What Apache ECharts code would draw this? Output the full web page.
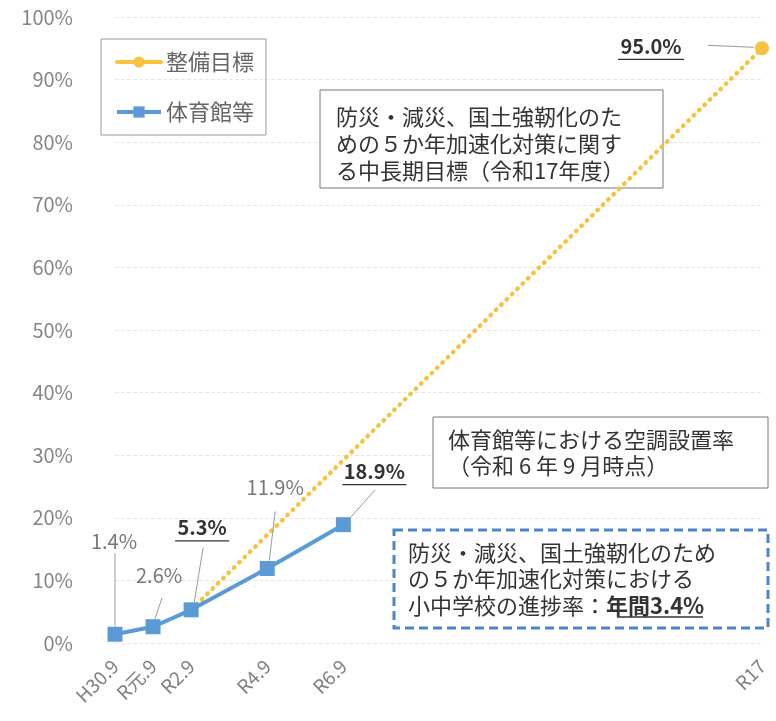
<!DOCTYPE html>
<html>
<head>
<meta charset="utf-8">
<script src="https://cdn.jsdelivr.net/npm/echarts@6/dist/echarts.min.js"></script>
<style>
html, body { margin: 0; padding: 0; background: #fff; }
#chart { width: 776px; height: 721px; }
</style>
</head>
<body>
<div id="chart"></div>
<script>
// 年度ラベルと横位置（H30.9 を 0 とした年数）
var xLabels = ['H30.9', 'R元.9', 'R2.9', 'R4.9', 'R6.9', 'R17'];
var xYears = [0, 1, 2, 4, 6, 17];
// 体育館等の空調設置率（%）
var gymYears = [0, 1, 2, 4, 6];
var gymRate = [1.4, 2.6, 5.3, 11.9, 18.9];
// 整備目標（R2.9 から R17 まで）
var targetYears = [2, 17];
var targetRate = [5.3, 95.0];

var FONT = '"Noto Sans CJK JP", "Noto Sans", sans-serif';

var chart = echarts.init(document.getElementById('chart'));

// ラベル位置：[文字中心dx, dy, 引出線始点dx, dy, 終点dx, dy, 強調, 下線幅]
var gymLabelPos = [
  [-1, -93, 0, -81, 0, -8, false, 0],
  [6, -51, 9, -29, 2, -8, false, 0],
  [11, -82, 12, -62, 3, -7, true, 54],
  [8, -81, 8, -57, 2, -8, false, 0],
  [31, -53, 32, -35, 7, -7, true, 64]
];
var targetLabelPos = [-111, -2, -54, -3, -8, -1, true, 66];

var option = {
  backgroundColor: '#fff',
  textStyle: { fontFamily: FONT },
  animation: false,
  grid: { left: 115, right: 14, top: 17, bottom: 78, containLabel: false },
  legend: {
    orient: 'vertical',
    left: 101,
    top: 39,
    data: ['整備目標', '体育館等'],
    itemWidth: 44,
    itemHeight: 14,
    itemGap: 28,
    padding: [12, 12, 12, 14],
    borderColor: '#999',
    borderWidth: 1,
    lineStyle: { type: 'solid', width: 4 },
    textStyle: { fontSize: 22, color: '#666', fontFamily: FONT }
  },
  xAxis: {
    type: 'value',
    min: 0,
    max: 17,
    interval: 1,
    axisLine: { show: false },
    axisTick: { show: false },
    splitLine: { show: false },
    axisLabel: {
      rotate: 45,
      fontSize: 19,
      color: '#808080',
      margin: 20,
      fontFamily: FONT,
      formatter: function (val) {
        var i = xYears.indexOf(Math.round(val));
        return i >= 0 ? xLabels[i] : '';
      }
    }
  },
  yAxis: {
    type: 'value',
    min: 0,
    max: 100,
    interval: 10,
    axisLine: { show: false },
    axisTick: { show: false },
    splitLine: { lineStyle: { color: '#e8e8e8', type: 'dashed' } },
    axisLabel: {
      fontSize: 20,
      color: '#858585',
      margin: 42,
      fontFamily: FONT,
      formatter: '{value}%'
    }
  },
  series: [
    {
      name: '整備目標',
      type: 'line',
      z: 3,
      color: '#f8c13f',
      symbol: 'circle',
      symbolSize: 14,
      lineStyle: { color: '#f8c13f', width: 4.5, type: [0.5, 7], cap: 'round' },
      itemStyle: { color: '#f8c13f' },
      data: targetYears.map(function (x, i) {
        var d = { value: [x, targetRate[i]] };
        if (i === 0) d.symbol = 'none';
        return d;
      })
    },
    {
      name: '体育館等',
      type: 'line',
      z: 4,
      color: '#5b9bd5',
      symbol: 'rect',
      symbolSize: 15,
      lineStyle: { color: '#5b9bd5', width: 4 },
      itemStyle: { color: '#5b9bd5' },
      data: gymYears.map(function (x, i) { return [x, gymRate[i]]; })
    }
  ]
};
chart.setOption(option);

function pointLabel(x, v, pos) {
  var p = chart.convertToPixel({ gridIndex: 0 }, [x, v]);
  var cx = p[0] + pos[0], cy = p[1] + pos[1];
  var out = [];
  out.push({
    type: 'line', silent: true, z: 10,
    shape: { x1: p[0] + pos[2], y1: p[1] + pos[3], x2: p[0] + pos[4], y2: p[1] + pos[5] },
    style: { stroke: '#9a9a9a', lineWidth: 1 }
  });
  out.push({
    type: 'text', silent: true, z: 10,
    x: cx, y: cy,
    style: {
      text: v.toFixed(1) + '%',
      fill: pos[6] ? '#333' : '#777',
      font: (pos[6] ? 'bold 20px ' : '20px ') + FONT,
      align: 'center', verticalAlign: 'middle'
    }
  });
  if (pos[7]) {
    out.push({
      type: 'line', silent: true, z: 10,
      shape: { x1: cx - pos[7] / 2, y1: cy + 13, x2: cx + pos[7] / 2, y2: cy + 13 },
      style: { stroke: '#333', lineWidth: 1.3 }
    });
  }
  return out;
}

var gfx = [];

// 注記ボックス（線より下に描く）
gfx.push({
  type: 'rect', silent: true, z: 1,
  shape: { x: 320, y: 90, width: 343, height: 98 },
  style: { fill: '#fff', stroke: '#777', lineWidth: 1 }
});
gfx.push({
  type: 'text', silent: true, z: 1, x: 336, y: 103,
  style: {
    text: '防災・減災、国土強靭化のた\nめの５か年加速化対策に関す\nる中長期目標（令和17年度）',
    font: '22px ' + FONT, fill: '#333', lineHeight: 27
  }
});
gfx.push({
  type: 'rect', silent: true, z: 1,
  shape: { x: 433, y: 417, width: 335, height: 71 },
  style: { fill: '#fff', stroke: '#777', lineWidth: 1 }
});
gfx.push({
  type: 'text', silent: true, z: 1, x: 448, y: 427,
  style: {
    text: '体育館等における空調設置率\n（令和 6 年 9 月時点）',
    font: '22px ' + FONT, fill: '#333', lineHeight: 26
  }
});
gfx.push({
  type: 'rect', silent: true, z: 1,
  shape: { x: 394, y: 530, width: 374, height: 98 },
  style: { fill: '#fff', stroke: '#4a86d0', lineWidth: 3, lineDash: [9, 5] }
});
gfx.push({
  type: 'text', silent: true, z: 1, x: 408, y: 539,
  style: {
    text: '防災・減災、国土強靭化のため\nの５か年加速化対策における\n小中学校の進捗率：{b|年間3.4%}',
    font: '22px ' + FONT, fill: '#333', lineHeight: 26.5,
    rich: { b: { font: 'bold 22px ' + FONT, fill: '#333' } }
  }
});
gfx.push({
  type: 'line', silent: true, z: 1,
  shape: { x1: 617, y1: 617, x2: 703, y2: 617 },
  style: { stroke: '#333', lineWidth: 1.3 }
});

gymRate.forEach(function (v, i) {
  gfx = gfx.concat(pointLabel(gymYears[i], v, gymLabelPos[i]));
});
gfx = gfx.concat(pointLabel(targetYears[1], targetRate[1], targetLabelPos));

chart.setOption({ graphic: gfx });

window.addEventListener('resize', function () { chart.resize(); });
</script>
</body>
</html>
